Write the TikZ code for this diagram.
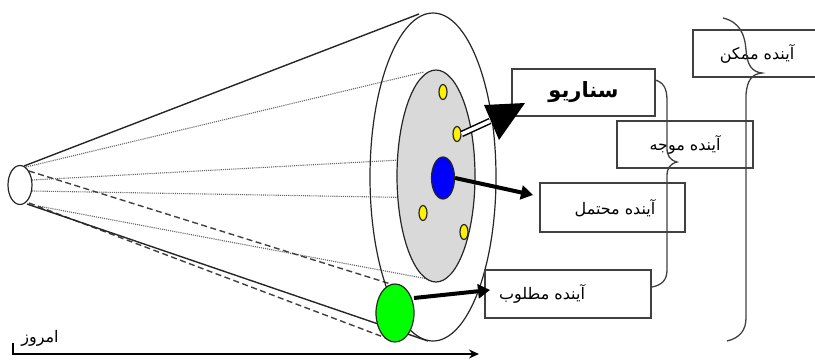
\documentclass[tikz,border=0pt]{standalone}
\usepackage{fontspec}
\newfontfamily\fa[Script=Arabic]{DejaVu Sans}
\TeXXeTstate=1
\usetikzlibrary{arrows.meta,shapes.geometric}
\begin{document}
\begin{tikzpicture}[x=1pt,y=-1pt,
  box/.style={draw=black!75, line width=1.4pt, inner sep=0pt},
  lbl/.style={font=\fa\fontsize{16}{19}\selectfont},
  dot/.style={ellipse, draw=black!85, line width=1.2pt, inner sep=0pt},
  dottedline/.style={densely dotted, draw=black!60, line width=1.1pt},
  dashline/.style={draw=black!75, line width=1.4pt, dash pattern=on 6pt off 3.5pt},
  thickarrow/.style={line width=4pt, -{Triangle[length=12pt,width=14pt]}},
  bracepath/.style={draw=black!75, line width=1.3pt}
]
\useasboundingbox (0,0) rectangle (815,360);

% cone lines
\coordinate (sT) at (24,166);
\coordinate (sB) at (27,204);
\draw[dottedline] (26,167) -- (424,72);
\draw[dottedline] (32,180) -- (437,158);
\draw[dottedline] (32,191) -- (437,198);
\draw[dottedline] (38,206) -- (428,279);
\draw[dashline] (29,171) -- (394,285);
\draw[dashline] (29,203) -- (386,338);
\draw[line width=1.4pt, black!85] (sT) -- (419,14);
\draw[line width=1.4pt, black!85] (sB) -- (428,341);

% small ellipse (today)
\node[dot, fill=white, minimum width=24pt, minimum height=39pt] (now) at (20,185) {};

% outer ellipse
\node[dot, minimum width=126pt, minimum height=328pt] (outer) at (433,177) {};
% inner gray ellipse
\node[dot, fill=black!15, minimum width=78pt, minimum height=212pt] (inner) at (436,176) {};

% yellow futures
\node[dot, fill=yellow, minimum width=8pt, minimum height=15pt] (y1) at (443,92) {};
\node[dot, fill=yellow, minimum width=8pt, minimum height=15pt] (y2) at (457,134) {};
\node[dot, fill=yellow, minimum width=8pt, minimum height=15pt] (y3) at (423,213) {};
\node[dot, fill=yellow, minimum width=8pt, minimum height=15pt] (y4) at (464,232) {};

% blue and green
\node[dot, fill=blue, minimum width=23pt, minimum height=42pt] (bl) at (443,178) {};
\node[dot, fill=green, minimum width=38pt, minimum height=58pt] (gr) at (395,313) {};

% boxes
\node[box, minimum width=143pt, minimum height=47pt, font=\fa\bfseries\fontsize{21}{25}\selectfont] (scen) at (583.5,92.5) {\beginR سناریو\endR};
\node[box, lbl, minimum width=136pt, minimum height=47pt] (mojah) at (685,144.5) {\beginR آینده موجه\endR};
\node[box, minimum width=145pt, minimum height=49pt] (moht) at (612.5,207.5) {};
\node[lbl] (mohtt) at (615,208) {\beginR آینده محتمل\endR};
\node[box, minimum width=166pt, minimum height=48pt] (matl) at (568,294) {};
\node[lbl] (matlt) at (542,294) {\beginR آینده مطلوب\endR};
\node[box, minimum width=126pt, minimum height=47pt] (mom) at (756,53.5) {};
\node[lbl] (momt) at (757,54) {\beginR آینده ممکن\endR};

% arrows
\coordinate (sh1) at (490,121);
\draw[line width=1.5pt, double=white, double distance=3.5pt] (y2.east) -- (sh1);
\coordinate (hA) at (484,105);
\coordinate (hT) at (525,103);
\coordinate (hB) at (499,140);
\fill[black] (hA) -- (hT) -- (hB) -- cycle;
\coordinate (btip) at (533,195);
\draw[thickarrow] (bl.east) -- (btip);
\coordinate (g0) at (414,298);
\coordinate (gtip) at (490,290);
\draw[thickarrow] (g0) -- (gtip);

% braces
\draw[bracepath] (655,80) .. controls (663,82) and (667,88) .. (667,100) -- (667,148)
  .. controls (667,156) and (670,160) .. (677,162)
  .. controls (670,164) and (667,168) .. (667,176) -- (667,270)
  .. controls (667,280) and (662,285) .. (652,287);
\draw[bracepath] (723,18) .. controls (740,22) and (745,35) .. (746,50)
  .. controls (747,65) and (752,72) .. (762,73)
  .. controls (752,74) and (747,80) .. (746,95) -- (746,318)
  .. controls (746,330) and (740,338) .. (727,341);

% timeline
\coordinate (t0) at (13,343);
\coordinate (t1) at (13,354);
\coordinate (t2) at (479,354);
\draw[line width=1.4pt, -{Stealth[length=10pt,width=9pt]}] (t0) -- (t1) -- (t2);
\node[lbl] (today) at (40,338) {\beginR امروز\endR};
\end{tikzpicture}
\end{document}
